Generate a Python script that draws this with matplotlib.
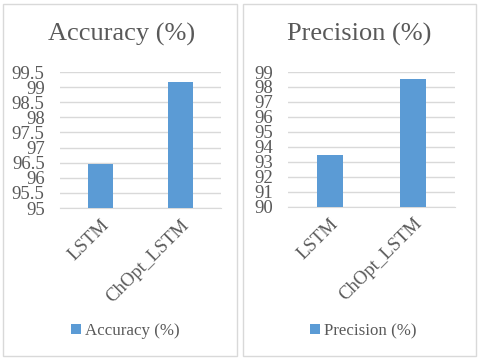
import matplotlib
matplotlib.use("Agg")
import matplotlib.pyplot as plt
from matplotlib.patches import Rectangle

# data
models = ["LSTM", "ChOpt_LSTM"]
accuracy = [96.46, 99.18]
precision = [93.45, 98.53]

acc_ticks = [95, 95.5, 96, 96.5, 97, 97.5, 98, 98.5, 99, 99.5]
acc_labels = ["95", "95.5", "96", "96.5", "97", "97.5", "98", "98.5", "99", "99.5"]
prec_ticks = [90, 91, 92, 93, 94, 95, 96, 97, 98, 99]

bar_color = "#5B9BD5"
text_color = "#595959"
grid_color = "#D9D9D9"

plt.rcParams["font.family"] = ["Liberation Serif", "DejaVu Serif"]

fig = plt.figure(figsize=(4.8, 3.59), dpi=100)
fig.patch.set_facecolor("white")

# panel frames
fig.patches.append(Rectangle((3 / 480, 3 / 359), 234 / 480, 352 / 359, transform=fig.transFigure,
                             fill=False, edgecolor=grid_color, linewidth=1))
fig.patches.append(Rectangle((243 / 480, 3 / 359), 233 / 480, 352 / 359, transform=fig.transFigure,
                             fill=False, edgecolor=grid_color, linewidth=1))


def draw_panel(rect, values, ticks, labels, ylim, title, title_x, legend_x):
    ax = fig.add_axes(rect)
    bars = ax.bar(range(len(models)), values, width=0.31, color=bar_color, label=title, zorder=3)
    ax.set_xlim(-0.5, len(models) - 0.5)
    ax.set_ylim(ylim)
    ax.set_yticks(ticks)
    ax.set_yticklabels(labels)
    ax.set_xticks(range(len(models)))
    ax.set_xticklabels(models, rotation=45, ha="right", rotation_mode="anchor")
    ax.tick_params(axis="y", length=0, labelsize=13.5, colors=text_color, pad=11)
    ax.tick_params(axis="x", length=0, labelsize=13.5, colors=text_color, pad=6)
    ax.grid(axis="y", color=grid_color, linewidth=1, zorder=0)
    for s in ["top", "right", "left"]:
        ax.spines[s].set_visible(False)
    ax.spines["bottom"].set_color(grid_color)
    fig.text(title_x, 1 - 34 / 359, title, ha="center", va="center", fontsize=19, color=text_color)
    ax.legend(handles=[bars], loc="center", bbox_to_anchor=(legend_x, 1 - 331 / 359),
              bbox_transform=fig.transFigure, frameon=False, handlelength=0.6, handleheight=0.6,
              handletextpad=0.25, fontsize=12.2, labelcolor=text_color)
    return ax


draw_panel([60 / 480, 1 - 208 / 359, 161 / 480, 136 / 359], accuracy, acc_ticks, acc_labels,
           (95, 99.5), "Accuracy (%)", 122 / 480, 125.5 / 480)
draw_panel([288 / 480, 1 - 206.7 / 359, 167 / 480, 134.7 / 359], precision, prec_ticks,
           [str(t) for t in prec_ticks], (90, 99), "Precision (%)", 359 / 480, 363 / 480)

fig.savefig("out.png", dpi=100)
